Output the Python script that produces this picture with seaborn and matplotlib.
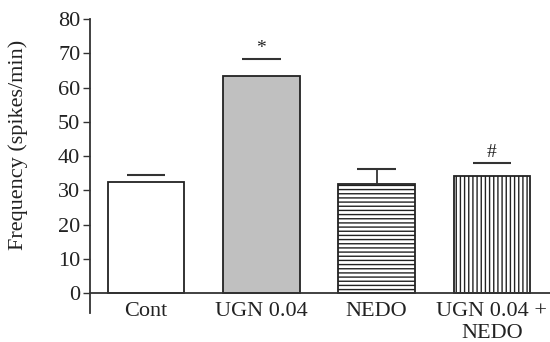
import numpy as np
import matplotlib
matplotlib.use("Agg")
import matplotlib.pyplot as plt
import seaborn as sns

# values
groups = ["Cont", "UGN 0.04", "NEDO", "UGN 0.04 +\nNEDO"]
freq = [32.5, 63.4, 31.7, 34.2]
line_y = [34.5, 68.3, 36.2, 37.9]      # cap / significance lines above bars
marks = ["", "*", "", "#"]
fills = ["white", "#c0c0c0", "white", "white"]
hatches = ["", "", "----", "||||"]

sns.set_theme(style="ticks")
plt.rcParams["font.family"] = ["Liberation Serif", "DejaVu Serif"]
plt.rcParams["hatch.linewidth"] = 1.0
plt.rcParams["hatch.color"] = "black"

fig = plt.figure(figsize=(5.5, 3.42), dpi=100)
ax = fig.add_axes([0.1636, 0.0848, 0.8364, 0.8596])

sns.barplot(x=groups, y=freq, ax=ax, width=0.663, color="white",
            edgecolor="#222222", linewidth=1.3, errorbar=None)
for bar, fc, h in zip(ax.patches, fills, hatches):
    bar.set_facecolor(fc)
    bar.set_hatch(h)

xs = np.arange(len(groups))
ax.hlines(line_y, xs - 0.167, xs + 0.167, color="#333333", lw=1.5)
# NEDO has a full error bar
ax.vlines(xs[2], freq[2], line_y[2], color="#333333", lw=1.3)
for x, y, m in zip(xs, line_y, marks):
    if m:
        ax.text(x, y + 0.6, m, ha="center", va="bottom", fontsize=14, color="#222222")

ax.axhline(0, color="#333333", lw=1.3, clip_on=False)
ax.set_xlim(-0.486, 3.504)
ax.set_ylim(-5.84, 80)
ax.set_yticks(range(0, 81, 10))
ax.tick_params(axis="y", length=5, width=1.0, labelsize=16, pad=2,
               color="#333333", labelcolor="#222222")
ax.tick_params(axis="x", length=0, labelsize=16, pad=-8, labelcolor="#222222")
for t in ax.get_xticklabels():
    t.set_linespacing(1.2)
sns.despine(ax=ax, bottom=True)
ax.spines["left"].set_color("#333333")
ax.spines["left"].set_linewidth(1.3)
ax.spines["left"].set_bounds(-5.84, 80)

ax.set_ylabel("Frequency (spikes/min)", fontsize=16, color="#222222")
ax.yaxis.set_label_coords(-0.135, 0.571)

fig.savefig("out.png", dpi=100)
